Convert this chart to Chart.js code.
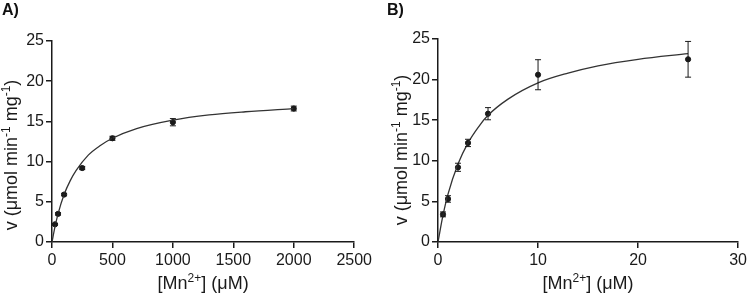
<!DOCTYPE html>
<html>
<head>
<meta charset="utf-8">
<script src="https://cdn.jsdelivr.net/npm/chart.js@4"></script>
<style>
  body { margin: 0; background: #fff; }
  .panel { position: absolute; top: 0; width: 375px; height: 297px; }
  .tag { position: absolute; top: 1px; font: bold 16px "Liberation Sans", Arial, sans-serif; color: #111; }
</style>
</head>
<body>
<div class="panel" style="left:0"><canvas id="chartA" width="375" height="297"></canvas><div class="tag" style="left:2px">A)</div></div>
<div class="panel" style="left:375px"><canvas id="chartB" width="375" height="297"></canvas><div class="tag" style="left:12px">B)</div></div>
<script>
// panel A - Mn2+ up to 2 mM
const concA = [25, 50, 100, 250, 500, 1000, 2000];
const rateA = [2.2, 3.5, 5.9, 9.2, 12.9, 14.9, 16.6];
const errA  = [0.1, 0.15, 0.15, 0.2, 0.25, 0.45, 0.3];
const fitXA = [0, 25, 50, 100, 150, 200, 300, 400, 500, 700, 1000, 1300, 1600, 2000];
const fitYA = [0, 1.9, 3.5, 5.9, 7.6, 8.9, 10.8, 12.0, 12.9, 14.1, 15.15, 15.8, 16.2, 16.6];

// panel B - low uM range
const concB = [0.5, 1, 2, 3, 5, 10, 25];
const rateB = [3.4, 5.3, 9.2, 12.2, 15.8, 20.6, 22.5];
const errB  = [0.3, 0.4, 0.5, 0.45, 0.75, 1.85, 2.2];
const fitXB = [0, 0.5, 1, 2, 3, 4, 5, 7, 10, 13, 16, 20, 25];
const fitYB = [0, 3.3, 5.9, 9.6, 12.2, 14.1, 15.6, 17.6, 19.6, 20.8, 21.7, 22.5, 23.2];

// axis titles, [text, isSuperscript]
const xTitle = [['[Mn', 0], ['2+', 1], ['] (μM)', 0]];
const yTitle = [['v (μmol min', 0], ['-1', 1], [' mg', 0], ['-1', 1], [')', 0]];

const ink = '#1a1a1a';
const fam = '"Liberation Sans", Arial, sans-serif';
const tickFont = { family: fam, size: 16 };

function drawRich(ctx, parts, cx, base) {
  const fonts = ['18px ' + fam, '12px ' + fam];
  let total = 0;
  parts.forEach(p => { ctx.font = fonts[p[1]]; total += ctx.measureText(p[0]).width; });
  let x = cx - total / 2;
  parts.forEach(p => {
    ctx.font = fonts[p[1]];
    ctx.fillText(p[0], x, p[1] ? base - 7 : base);
    x += ctx.measureText(p[0]).width;
  });
}

const axisTitles = {
  id: 'axisTitles',
  afterDraw(chart, args, o) {
    const ctx = chart.ctx;
    ctx.save();
    ctx.fillStyle = ink;
    ctx.textBaseline = 'alphabetic';
    drawRich(ctx, xTitle, (chart.chartArea.left + chart.chartArea.right) / 2, o.xBase);
    ctx.translate(o.yBase, o.yMid);
    ctx.rotate(-Math.PI / 2);
    drawRich(ctx, yTitle, 0, 0);
    ctx.restore();
  }
};

const errBars = {
  id: 'errBars',
  afterDatasetsDraw(chart, args, opts) {
    const ctx = chart.ctx;
    const xs = chart.scales.x, ys = chart.scales.y;
    ctx.save();
    ctx.strokeStyle = ink;
    ctx.lineWidth = 1;
    opts.x.forEach((xv, i) => {
      const px = xs.getPixelForValue(xv);
      const top = ys.getPixelForValue(opts.y[i] + opts.e[i]);
      const bot = ys.getPixelForValue(opts.y[i] - opts.e[i]);
      ctx.beginPath();
      ctx.moveTo(px, top); ctx.lineTo(px, bot);
      ctx.moveTo(px - 3, top); ctx.lineTo(px + 3, top);
      ctx.moveTo(px - 3, bot); ctx.lineTo(px + 3, bot);
      ctx.stroke();
    });
    ctx.restore();
  }
};

function makeChart(id, cx, cy, ce, fx, fy, xMax, xStep, pad, yWidth, titlePos) {
  return new Chart(document.getElementById(id), {
    type: 'scatter',
    data: {
      datasets: [
        {
          data: fx.map((v, i) => ({ x: v, y: fy[i] })),
          showLine: true,
          borderColor: '#333',
          borderWidth: 1.3,
          pointRadius: 0,
          cubicInterpolationMode: 'monotone'
        },
        {
          data: cx.map((v, i) => ({ x: v, y: cy[i] })),
          pointRadius: 2.6,
          backgroundColor: ink,
          borderColor: ink
        }
      ]
    },
    options: {
      responsive: false,
      devicePixelRatio: 1,
      animation: false,
      layout: { padding: pad },
      plugins: {
        legend: { display: false },
        tooltip: { enabled: false },
        errBars: { x: cx, y: cy, e: ce },
        axisTitles: titlePos
      },
      scales: {
        x: {
          type: 'linear', min: 0, max: xMax,
          ticks: { stepSize: xStep, color: ink, font: tickFont, padding: 3, maxRotation: 0, callback: v => String(v) },
          grid: { drawOnChartArea: false, drawTicks: true, tickLength: 6, color: ink, lineWidth: 1.5 },
          border: { color: ink, width: 1.5 },
          afterFit(s) { s.height = 50; }
        },
        y: {
          min: 0, max: 25,
          ticks: { stepSize: 5, color: ink, font: tickFont, padding: 2 },
          grid: { drawOnChartArea: false, drawTicks: true, tickLength: 6, color: ink, lineWidth: 1.5 },
          border: { color: ink, width: 1.5 },
          afterFit(s) { s.width = yWidth; }
        }
      }
    },
    plugins: [errBars, axisTitles]
  });
}

makeChart('chartA', concA, rateA, errA, fitXA, fitYA, 2500, 500,
  { left: 0, right: 20, top: 41, bottom: 5 }, 52, { xBase: 289, yBase: 17, yMid: 155 });
makeChart('chartB', concB, rateB, errB, fitXB, fitYB, 30, 10,
  { left: 21, right: 8, top: 39, bottom: 5 }, 42, { xBase: 289, yBase: 32, yMid: 150 });
</script>
</body>
</html>
